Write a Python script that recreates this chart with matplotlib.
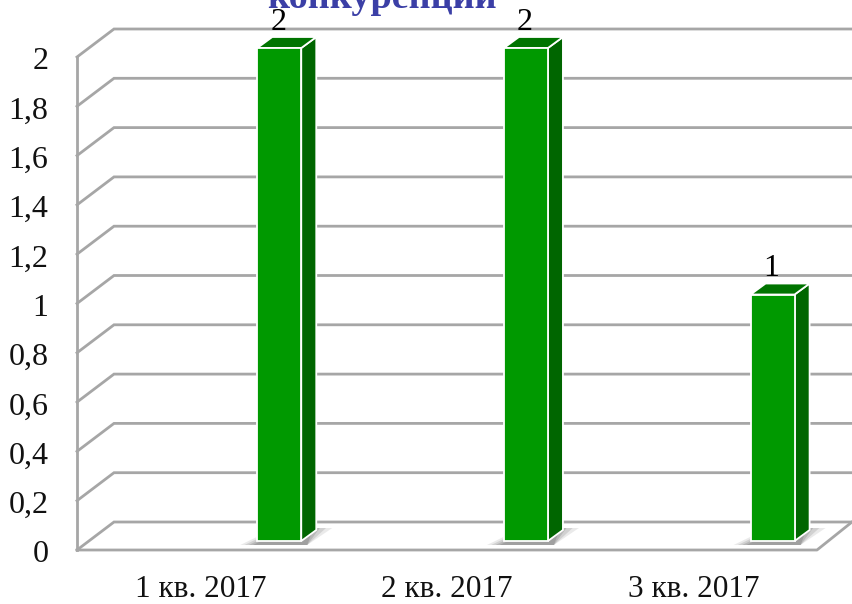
import matplotlib
matplotlib.use('Agg')
import matplotlib.pyplot as plt
import numpy as np
from matplotlib.patches import Polygon

plt.rcParams['font.family'] = ['Liberation Serif', 'DejaVu Serif']

# data
categories = ['1 кв. 2017', '2 кв. 2017', '3 кв. 2017']
values = [2, 2, 1]
y_ticks = [0, 0.2, 0.4, 0.6, 0.8, 1, 1.2, 1.4, 1.6, 1.8, 2]
y_tick_labels = ['0', '0,2', '0,4', '0,6', '0,8', '1', '1,2', '1,4', '1,6', '1,8', '2']
title = 'конкуренции'

W, H = 852, 604
fig = plt.figure(figsize=(W / 100, H / 100), dpi=100)
ax = fig.add_axes([77 / W, (H - 550) / H, 740 / W, 493 / H])
ax.set_xlim(-0.5, 2.5)
ax.set_ylim(0, 2)
ax.axis('off')

# pixels to data units
px = 3 / 740
py = 2 / 493

# depth of the fake 3d box
wall_dx = 37 * px
wall_dy = 28 * py
grid_c = '#a6a6a6'
grid_lw = 2.0

# walls and floor
for t in y_ticks:
    ax.plot([-0.5, -0.5 + wall_dx, 2.5 + wall_dx - 2 * px], [t, t + wall_dy, t + wall_dy],
            color=grid_c, lw=grid_lw, clip_on=False, zorder=1, solid_joinstyle='miter')
ax.plot([-0.5, -0.5], [0, 2], color=grid_c, lw=grid_lw, clip_on=False, zorder=1)
ax.plot([-0.5, 2.5, 2.5 + wall_dx - 2 * px], [0, 0, wall_dy], color=grid_c, lw=grid_lw,
        clip_on=False, zorder=1)

# bars
bar_w = 44 * px
bar_off = 0.32
bar_base = 9 * py
dx = 15 * px
dy = 11 * py
pos = np.arange(len(categories)) + bar_off

# soft shadow on the floor
for grow, alpha in [(1.0, 0.14), (0.75, 0.2), (0.5, 0.26), (0.25, 0.32)]:
    for p in pos:
        x0 = p - bar_w / 2 - 17 * px * grow
        x1 = p + bar_w / 2 + 6 * px
        y0 = bar_base - 4 * py
        y1 = bar_base + 13 * py
        ax.add_patch(Polygon([(x0, y0), (x1, y0), (x1 + 25 * px * grow, y1), (x0 + 35 * px, y1)],
                             fc='#707070', ec='none', alpha=alpha, zorder=2, clip_on=False))

ax.bar(pos, values, width=bar_w, bottom=bar_base, color='#009900', edgecolor='white',
       linewidth=1.3, zorder=4, clip_on=False)
for p, v in zip(pos, values):
    r = p + bar_w / 2
    l = p - bar_w / 2
    top = bar_base + v
    ax.add_patch(Polygon([(r, bar_base), (r + dx, bar_base + dy), (r + dx, top + dy), (r, top)],
                         fc='#006600', ec='white', lw=1.3, zorder=3, clip_on=False))
    ax.add_patch(Polygon([(l, top), (l + dx, top + dy), (r + dx, top + dy), (r, top)],
                         fc='#007400', ec='white', lw=1.3, zorder=3, clip_on=False))
    ax.annotate(str(v), (p - 1 * px, top), xytext=(0, 13.2), textcoords='offset points',
                ha='center', va='baseline', fontsize=23, color='black', zorder=6,
                annotation_clip=False)

# axis labels
for t, s in zip(y_ticks, y_tick_labels):
    ax.annotate(s, (-0.5, t), xytext=(-20.5, -3.5), textcoords='offset points', ha='right', va='center',
                fontsize=23, color='#111111', annotation_clip=False)
for i, s in enumerate(categories):
    ax.annotate(s, (i, 0), xytext=(0, -18), textcoords='offset points', ha='center', va='top',
                fontsize=22.5, color='#111111', annotation_clip=False)

fig.text(382 / W, (H - 8) / H, title, ha='center', va='baseline', fontsize=27.5,
         fontweight='bold', color='#3b3fa6')

plt.savefig('out.png', dpi=100)
